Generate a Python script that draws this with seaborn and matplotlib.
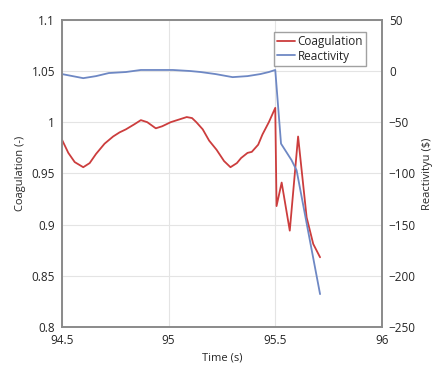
import pandas as pd
import matplotlib.pyplot as plt
import seaborn as sns

# values
coag_time = [94.50, 94.53, 94.56, 94.60, 94.63, 94.66, 94.70, 94.74, 94.77, 94.80,
             94.84, 94.87, 94.90, 94.94, 94.97, 95.01, 95.04, 95.085, 95.11,
             95.13, 95.16, 95.19, 95.225, 95.26, 95.29, 95.32, 95.34, 95.37,
             95.39, 95.42, 95.44, 95.47, 95.50,
             95.506, 95.53, 95.568, 95.607, 95.647, 95.678, 95.71]
coag = [0.983, 0.970, 0.961, 0.956, 0.960, 0.969, 0.979, 0.986, 0.990, 0.993,
        0.998, 1.002, 1.000, 0.994, 0.996, 1.000, 1.002, 1.005, 1.004,
        1.000, 0.993, 0.982, 0.973, 0.962, 0.956, 0.960, 0.965, 0.970,
        0.971, 0.978, 0.988, 1.000, 1.014,
        0.918, 0.941, 0.894, 0.986, 0.907, 0.881, 0.868]

react_time = [94.50, 94.55, 94.60, 94.66, 94.72, 94.80, 94.87, 94.95, 95.02,
              95.10, 95.15, 95.22, 95.30, 95.37, 95.43, 95.47, 95.50,
              95.527, 95.576, 95.60, 95.71]
react = [-3, -5, -7, -5, -2, -1, 1, 1, 1, 0, -1, -3, -6, -5, -3, -1, 1,
         -71, -87, -97, -218]

sns.set_style("white")
plt.rcParams['font.family'] = ['Open Sans', 'DejaVu Sans']

df_c = pd.DataFrame({'Time': coag_time, 'Coagulation': coag})
df_r = pd.DataFrame({'Time': react_time, 'Reactivity': react})

fig = plt.figure(figsize=(4.36, 3.74), dpi=100)
ax = fig.add_axes([0.142, 0.126, 0.734, 0.821])
ax2 = ax.twinx()

red = '#cc3d3d'
blue = '#6e88c4'
sns.lineplot(data=df_c, x='Time', y='Coagulation', ax=ax, color=red, lw=1.3,
             sort=False, estimator=None, label='Coagulation', legend=False)
sns.lineplot(data=df_r, x='Time', y='Reactivity', ax=ax2, color=blue, lw=1.3,
             sort=False, estimator=None, label='Reactivity', legend=False)

ax.set_xlim(94.5, 96)
ax.set_ylim(0.8, 1.1)
ax2.set_ylim(-250, 50)
ax.set_xticks([94.5, 95, 95.5, 96])
ax.set_xticklabels(['94.5', '95', '95.5', '96'])
ax.set_yticks([0.8, 0.85, 0.9, 0.95, 1.0, 1.05, 1.1])
ax.set_yticklabels(['0.8', '0.85', '0.9', '0.95', '1', '1.05', '1.1'])
ax2.set_yticks([-250, -200, -150, -100, -50, 0, 50])

ax.grid(True, color='#e4e4e4', lw=0.8)
ax.set_axisbelow(True)
for a in (ax, ax2):
    for s in a.spines.values():
        s.set_color('#8a8a8a')
        s.set_linewidth(1.2)
    a.tick_params(length=0, labelsize=8.5, pad=5)

ax.set_xlabel('Time (s)', fontsize=8)
ax.set_ylabel('Coagulation (-)', fontsize=8)
ax2.set_ylabel('Reactivityu (\\$)', fontsize=8)

h1, l1 = ax.get_legend_handles_labels()
h2, l2 = ax2.get_legend_handles_labels()
leg = ax2.legend(h1 + h2, l1 + l2, loc='upper right', bbox_to_anchor=(0.97, 0.98),
                 fontsize=8.5, frameon=True, fancybox=False, handlelength=1.5,
                 handletextpad=0.2, borderpad=0.3, labelspacing=0.1)
leg.get_frame().set_edgecolor('#8a8a8a')

fig.savefig('out.png', dpi=100)
